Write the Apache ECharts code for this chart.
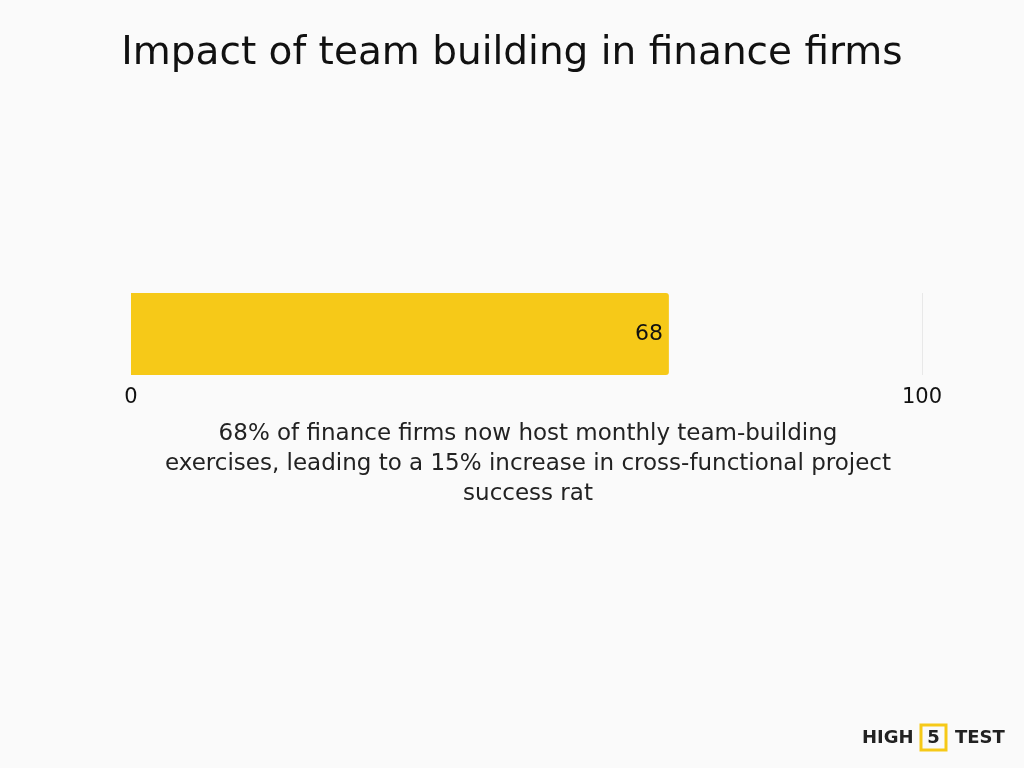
<!DOCTYPE html>
<html>
<head>
<meta charset="utf-8">
<script src="https://cdn.jsdelivr.net/npm/echarts@6/dist/echarts.min.js"></script>
<style>html,body{margin:0;padding:0;background:#fafafa;}#c{width:1024px;height:768px;}</style>
</head>
<body>
<div id="c"></div>
<script>
const categories = ['Finance firms'];
const values = [68];
const axisMin = 0;
const axisMax = 100;
const titleText = 'Impact of team building in finance firms';
const captionText = '68% of finance firms now host monthly team-building\nexercises, leading to a 15% increase in cross-functional project\nsuccess rat';

const chart = echarts.init(document.getElementById('c'));
const font = 'DejaVu Sans';
chart.setOption({
  backgroundColor: '#fafafa',
  animation: false,
  title: [{
    text: titleText,
    left: 'center',
    top: 29,
    textStyle: { fontFamily: font, fontSize: 39, fontWeight: 'normal', color: '#111' }
  }, {
    text: captionText,
    left: 523,
    top: 414,
    textAlign: 'center',
    textStyle: { fontFamily: font, fontSize: 23, fontWeight: 'normal', color: '#222', lineHeight: 30, align: 'center' }
  }],
  grid: { left: 131, right: 102, top: 293, bottom: 393, containLabel: false },
  xAxis: {
    type: 'value', min: axisMin, max: axisMax, interval: 100,
    axisLine: { show: false }, axisTick: { show: false },
    splitLine: { show: true, lineStyle: { color: '#e8e8e8', width: 1 } },
    axisLabel: { fontFamily: font, fontSize: 21, color: '#111', margin: 12 }
  },
  yAxis: {
    type: 'category', data: categories,
    axisLine: { show: false }, axisTick: { show: false }, axisLabel: { show: false }
  },
  series: [{
    type: 'bar', data: values, barCategoryGap: '0%', barWidth: '100%',
    itemStyle: { color: '#F6C918', borderRadius: [0, 3, 3, 0] },
    label: { show: true, position: 'insideRight', fontFamily: font, fontSize: 22, color: '#111', distance: 6 }
  }],
  graphic: [
    { type: 'text', x: 862, y: 738, style: { text: 'HIGH', font: 'bold 18px "DejaVu Sans"', fill: '#222', verticalAlign: 'middle' } },
    { type: 'rect', shape: { x: 921, y: 725, width: 25, height: 25 }, style: { fill: 'none', stroke: '#F6C918', lineWidth: 3 } },
    { type: 'text', x: 933.5, y: 738, style: { text: '5', font: 'bold 18px "DejaVu Sans"', fill: '#222', align: 'center', verticalAlign: 'middle' } },
    { type: 'text', x: 955, y: 738, style: { text: 'TEST', font: 'bold 18px "DejaVu Sans"', fill: '#222', verticalAlign: 'middle' } }
  ]
});
</script>
</body>
</html>
